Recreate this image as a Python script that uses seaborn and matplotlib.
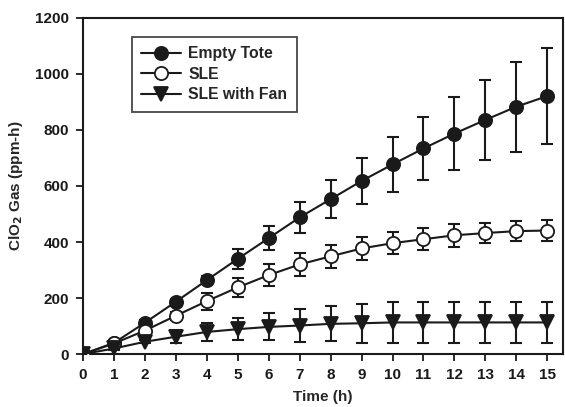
import numpy as np
import pandas as pd
import matplotlib
matplotlib.use("Agg")
import matplotlib.pyplot as plt
import seaborn as sns

hours = list(range(16))

tote = [0, 40, 112, 187, 264, 340, 414, 488, 553, 618, 677, 734, 787, 836, 883, 921]
tote_err = [0, 5, 8, 10, 15, 35, 43, 55, 67, 83, 99, 114, 130, 144, 161, 172]

sle = [0, 38, 84, 137, 189, 238, 282, 320, 349, 377, 396, 410, 424, 432, 439, 441]
sle_err = [0, 5, 8, 15, 30, 35, 38, 40, 41, 40, 40, 40, 40, 37, 37, 37]

fan = [0, 20, 44, 62, 79, 89, 97, 102, 108, 110, 113, 113, 113, 113, 113, 113]
fan_err = [0, 4, 5, 24, 31, 40, 48, 58, 62, 70, 73, 73, 73, 73, 73, 73]

series = ["Empty Tote", "SLE", "SLE with Fan"]

df = pd.concat([
    pd.DataFrame({"Time": hours, "Gas": tote, "err": tote_err, "Series": series[0]}),
    pd.DataFrame({"Time": hours, "Gas": sle, "err": sle_err, "Series": series[1]}),
    pd.DataFrame({"Time": hours, "Gas": fan, "err": fan_err, "Series": series[2]}),
])

sns.set_style("ticks")
plt.rcParams['font.family'] = ['Liberation Sans', 'DejaVu Sans']
plt.rcParams['font.weight'] = 'bold'

fig = plt.figure(figsize=(5.65, 4.07), dpi=100)
ax = fig.add_axes([0.147, 0.130, 0.849, 0.826])

# error bars first so the markers sit on top
for name, sub in df.groupby("Series", sort=False):
    ax.errorbar(sub["Time"], sub["Gas"], yerr=sub["err"], fmt="none",
                ecolor="#1a1a1a", elinewidth=1.5, capsize=4.5, capthick=1.5, zorder=1)

styles = {
    "Empty Tote": dict(marker="o", mfc="#1a1a1a"),
    "SLE": dict(marker="o", mfc="white"),
    "SLE with Fan": dict(marker="v", mfc="#1a1a1a"),
}
for name in series:
    sub = df[df["Series"] == name]
    sns.lineplot(data=sub, x="Time", y="Gas", ax=ax, color="#1a1a1a", lw=1.5,
                 marker=styles[name]["marker"], markersize=9.5,
                 markerfacecolor=styles[name]["mfc"], markeredgecolor="#1a1a1a",
                 markeredgewidth=1.3, label=name, zorder=3)

ax.set_xlim(0, 15.5)
ax.set_ylim(0, 1200)
ax.set_xticks(range(16))
ax.set_yticks(range(0, 1201, 200))
ax.tick_params(direction="out", length=5, width=1.3, labelsize=11, colors="#1a1a1a", pad=5)
for lab in ax.get_xticklabels() + ax.get_yticklabels():
    lab.set_fontweight("bold")
for sp in ax.spines.values():
    sp.set_linewidth(1.5)
    sp.set_color("#1a1a1a")

ax.set_xlabel("Time (h)", fontsize=11, fontweight="bold", labelpad=6)
ax.set_ylabel("ClO$_\\mathbf{2}$ Gas (ppm-h)", fontsize=11, fontweight="bold", labelpad=7)

leg = ax.legend(loc="upper left", bbox_to_anchor=(0.102, 0.943), borderaxespad=0,
                frameon=True, fancybox=False, edgecolor="#1a1a1a",
                prop={"weight": "bold", "size": 11.3}, handlelength=2.5,
                borderpad=0.6, labelspacing=0.35, handletextpad=0.5)
leg.get_frame().set_linewidth(1.3)

fig.savefig("out.png", dpi=100)
